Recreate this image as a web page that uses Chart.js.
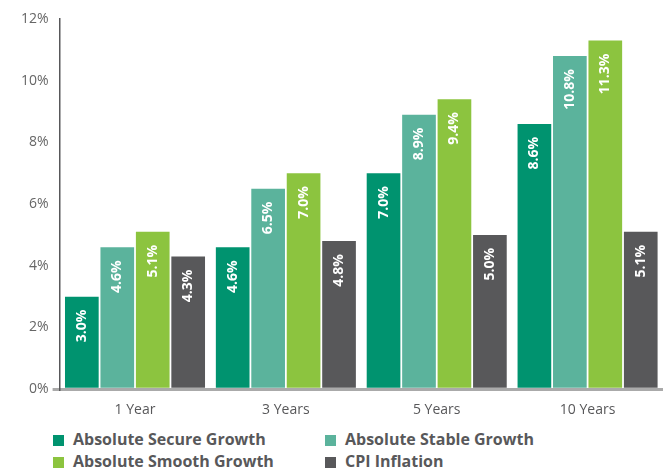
<!DOCTYPE html>
<html>
<head>
<meta charset="utf-8">
<script src="https://cdn.jsdelivr.net/npm/chart.js@4"></script>
<style>
  body { margin: 0; background: #fff; font-family: "Open Sans", sans-serif; }
  #wrap { position: relative; width: 663px; height: 470px; }
  #chart-box { position: absolute; left: 0; top: 0; width: 663px; height: 422px; }
  #legend { position: absolute; left: 53px; top: 428px; width: 610px; }
  .item { position: absolute; font-weight: 700; font-size: 16px; color: #58585a; white-space: nowrap; line-height: 22px; }
  .item span { display: inline-block; width: 11px; height: 11px; margin-right: 9px; vertical-align: -1px; }
</style>
</head>
<body>
<div id="wrap">
  <div id="chart-box"><canvas id="chart"></canvas></div>
  <div id="legend"></div>
</div>
<script>
const categories = ['1 Year', '3 Years', '5 Years', '10 Years'];
const seriesNames = ['Absolute Secure Growth', 'Absolute Stable Growth', 'Absolute Smooth Growth', 'CPI Inflation'];
const secureGrowth = [3.0, 4.6, 7.0, 8.6];
const stableGrowth = [4.6, 6.5, 8.9, 10.8];
const smoothGrowth = [5.1, 7.0, 9.4, 11.3];
const cpiInflation = [4.3, 4.8, 5.0, 5.1];
const colors = ['#00936f', '#5bb39c', '#8cc43f', '#58585a'];

const allSeries = [secureGrowth, stableGrowth, smoothGrowth, cpiInflation];

// white rotated value labels inside each bar, near the top
const barLabels = {
    id: 'barLabels',
    afterDatasetsDraw(chart) {
        const ctx = chart.ctx;
        ctx.save();
        ctx.fillStyle = '#fff';
        ctx.font = 'bold 14px "Open Sans"';
        ctx.textAlign = 'right';
        ctx.textBaseline = 'middle';
        chart.data.datasets.forEach((ds, i) => {
            chart.getDatasetMeta(i).data.forEach((bar, j) => {
                ctx.save();
                ctx.translate(bar.x, bar.y + 13);
                ctx.rotate(-Math.PI / 2);
                ctx.fillText(ds.data[j].toFixed(1) + '%', 0, 0);
                ctx.restore();
            });
        });
        ctx.restore();
    }
};

new Chart(document.getElementById('chart'), {
    type: 'bar',
    data: {
        labels: categories,
        datasets: allSeries.map((d, i) => ({
            label: seriesNames[i],
            data: d,
            backgroundColor: colors[i],
            barPercentage: 0.95,
            categoryPercentage: 0.94
        }))
    },
    options: {
        responsive: true,
        maintainAspectRatio: false,
        animation: false,
        layout: { padding: { top: 19, right: 0, left: 17 } },
        plugins: { legend: { display: false }, tooltip: { enabled: false } },
        scales: {
            x: {
                grid: { display: false },
                border: { color: '#aaaaaa', width: 3 },
                ticks: { color: '#58585a', font: { size: 14, family: 'Open Sans' }, padding: 4 }
            },
            y: {
                min: 0,
                max: 12,
                ticks: {
                    stepSize: 2,
                    color: '#666',
                    font: { size: 14, family: 'Open Sans' },
                    padding: 4,
                    callback: v => v + '%'
                },
                grid: {
                    drawOnChartArea: false,
                    tickLength: 7,
                    color: c => c.tick && c.tick.value === 0 ? '#aaaaaa' : 'rgba(0,0,0,0)',
                    lineWidth: 3
                },
                border: { color: '#58585a', width: 1.5 }
            }
        }
    },
    plugins: [barLabels]
});

const legend = document.getElementById('legend');
const pos = [[0, 0], [272, 0], [0, 22], [272, 22]];
seriesNames.forEach((name, i) => {
    const el = document.createElement('div');
    el.className = 'item';
    el.style.left = pos[i][0] + 'px';
    el.style.top = pos[i][1] + 'px';
    el.innerHTML = '<span style="background:' + colors[i] + '"></span>' + name;
    legend.appendChild(el);
});
</script>
</body>
</html>
